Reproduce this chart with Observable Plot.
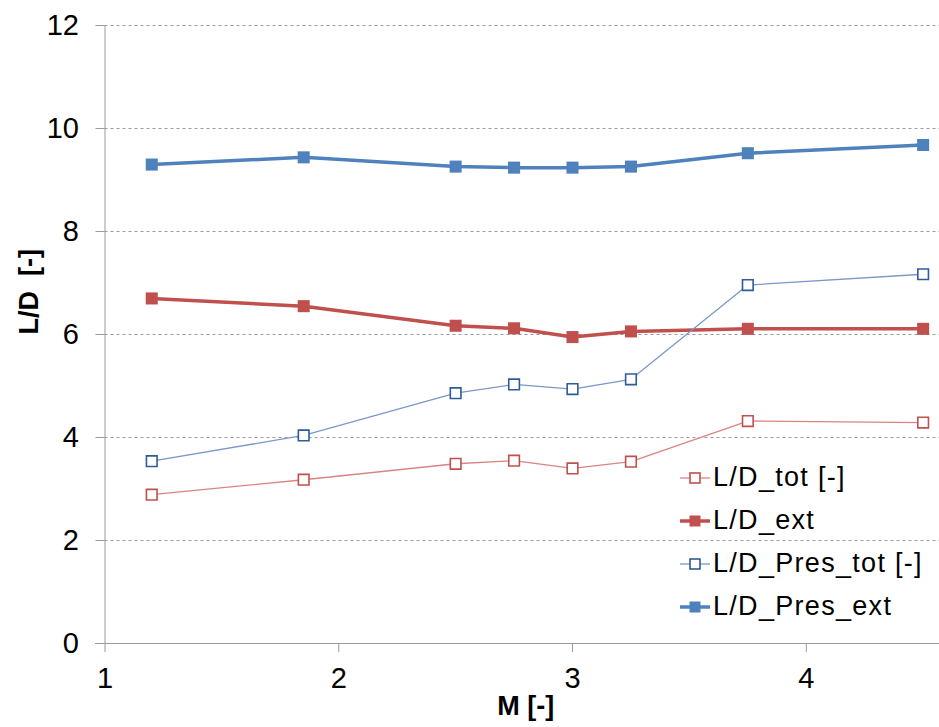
<!DOCTYPE html>
<html><head><meta charset="utf-8">
<script src="https://cdn.jsdelivr.net/npm/d3@7"></script>
<script src="https://cdn.jsdelivr.net/npm/@observablehq/plot@0.6"></script>
<style>
body{margin:0;background:#fff;font-family:"Liberation Sans",Arial,sans-serif;}
#wrap{position:relative;width:939px;height:727px;}
#legend{position:absolute;left:680px;top:456px;font-size:27px;letter-spacing:1.3px;line-height:43px;color:#000;}
#legend div{display:flex;align-items:center;height:43px;}
#legend svg{margin-right:3px;}
</style></head>
<body><div id="wrap"><div id="legend"></div></div>
<script>
const M = [1.2, 1.85, 2.5, 2.75, 3.0, 3.25, 3.75, 4.5];
const LD_tot = [2.89, 3.18, 3.49, 3.55, 3.40, 3.53, 4.32, 4.29];
const LD_ext = [6.70, 6.55, 6.17, 6.12, 5.95, 6.06, 6.11, 6.11];
const LD_Pres_tot = [3.54, 4.04, 4.86, 5.03, 4.94, 5.13, 6.96, 7.17];
const LD_Pres_ext = [9.30, 9.44, 9.26, 9.24, 9.24, 9.26, 9.52, 9.68];
const seriesNames = ["L/D_tot [-]", "L/D_ext", "L/D_Pres_tot [-]", "L/D_Pres_ext"];
const xTicks = [1, 2, 3, 4];
const yTicks = [0, 2, 4, 6, 8, 10, 12];

const styles = [
  {line: "#D98482", lw: 1.3, mark: "#C0504D", fill: "white", r: 6.0, sw: 1.6},
  {line: "#C0504D", lw: 3.5, mark: "#C0504D", fill: "#C0504D", r: 6.8, sw: 0},
  {line: "#7A98C8", lw: 1.3, mark: "#2E5C96", fill: "white", r: 6.0, sw: 1.6},
  {line: "#4F81BD", lw: 3.5, mark: "#4F81BD", fill: "#4F81BD", r: 6.8, sw: 0}
];
const values = [LD_tot, LD_ext, LD_Pres_tot, LD_Pres_ext];
const tables = values.map(v => M.map((m, i) => ({M: m, v: v[i]})));

const marks = [
  Plot.ruleY(yTicks.filter(d => d > 0), {stroke: "#9a9a9a", strokeDasharray: "3,3", strokeWidth: 1}),
  Plot.axisY({ticks: yTicks, tickFormat: d3.format("d"), tickSize: 9, tickPadding: 17, stroke: "#9a9a9a", fill: "#000", fontSize: 29, label: null}),
  Plot.axisX({ticks: xTicks, tickFormat: d3.format("d"), tickSize: 9, tickPadding: 15, stroke: "#9a9a9a", fill: "#000", fontSize: 29, label: null}),
  Plot.ruleX([1], {stroke: "#9a9a9a", strokeWidth: 1}),
  Plot.ruleY([0], {stroke: "#9a9a9a", strokeWidth: 1, x1: 0.96, x2: 4.57}),
  Plot.text(["M [-]"], {frameAnchor: "bottom", dy: 71, fontSize: 27, fontWeight: "bold", fill: "#000", x: 2.80}),
  Plot.text(["L/D  [-]"], {frameAnchor: "left", dx: -76, rotate: -90, fontSize: 27, fontWeight: "bold", fill: "#000"})
];
values.forEach((v, k) => {
  const s = styles[k];
  marks.push(Plot.line(tables[k], {x: "M", y: "v", stroke: s.line, strokeWidth: s.lw}));
});
values.forEach((v, k) => {
  const s = styles[k];
  marks.push(Plot.dot(tables[k], {x: "M", y: "v", symbol: "square", r: s.r, fill: s.fill, stroke: s.sw ? s.mark : "none", strokeWidth: s.sw}));
});

const chart = Plot.plot({
  width: 939, height: 727,
  marginLeft: 104.5, marginRight: 0, marginTop: 25, marginBottom: 84,
  x: {domain: [1, 4.57]},
  y: {domain: [0, 12]},
  style: {fontFamily: "'Liberation Sans', Arial, sans-serif", background: "white", overflow: "visible"},
  marks
});
document.getElementById("wrap").prepend(chart);

const leg = document.getElementById("legend");
seriesNames.forEach((name, k) => {
  const s = styles[k];
  const row = document.createElement("div");
  const side = s.sw ? 10 : 11;
  row.innerHTML = `<svg width="30" height="20"><line x1="0" x2="30" y1="10" y2="10" stroke="${s.line}" stroke-width="${s.lw}"/>` +
    `<rect x="${15 - side/2}" y="${10 - side/2}" width="${side}" height="${side}" fill="${s.fill}" stroke="${s.sw ? s.mark : 'none'}" stroke-width="${s.sw}"/></svg><span>${name}</span>`;
  leg.appendChild(row);
});
</script></body></html>
